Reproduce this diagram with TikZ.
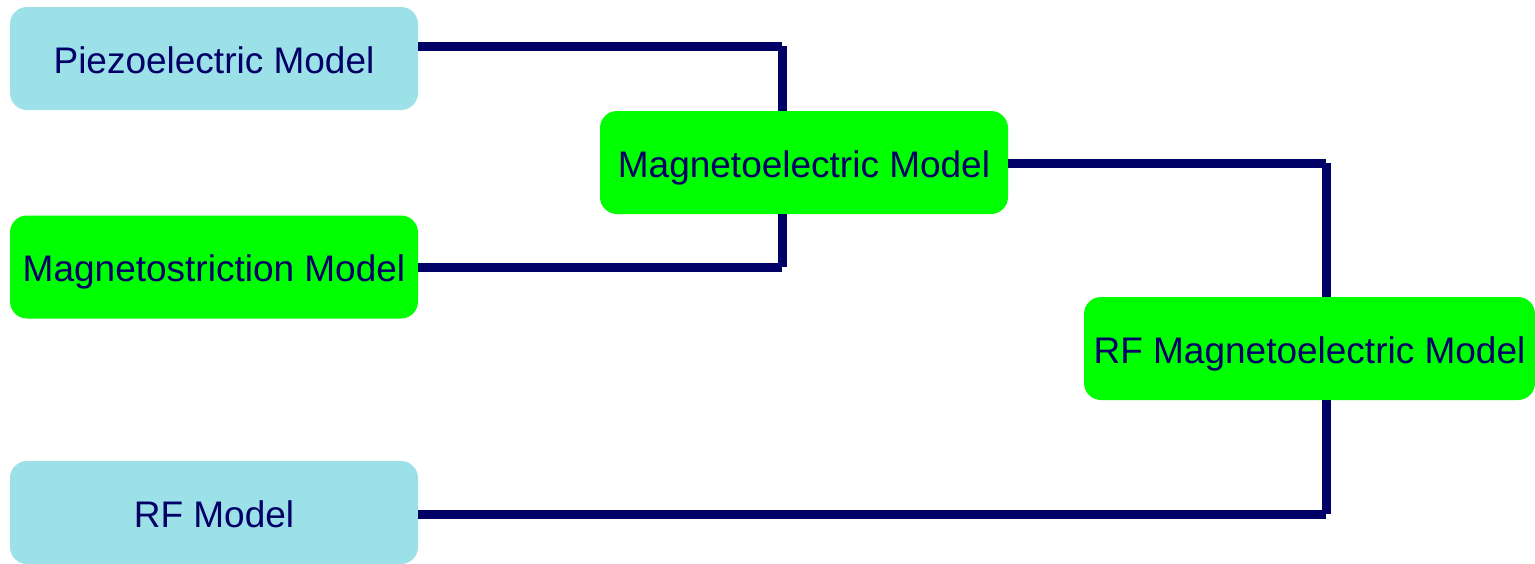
\documentclass[tikz,border=0pt]{standalone}
\usepackage{fontspec}
\setmainfont{Liberation Sans}
\definecolor{boxblue}{RGB}{156,224,232}
\definecolor{boxgreen}{RGB}{0,255,0}
\definecolor{navy}{RGB}{0,0,102}
\begin{document}
\begin{tikzpicture}[x=1pt,y=-1pt,
  model/.style={rounded corners=17pt, inner sep=0pt, minimum height=103pt,
    text height=29pt, text depth=0pt,
    text=navy, font=\fontsize{37}{44}\selectfont},
  inputbox/.style={model, fill=boxblue, minimum width=408pt},
  corebox/.style={model, fill=boxgreen, minimum width=408pt},
  link/.style={draw=navy, line width=9pt, line cap=butt}]
\useasboundingbox (0,0) rectangle (1535,563);

% bend points of the connectors
\coordinate (b1) at (782,46);
\coordinate (b2) at (782,267);
\coordinate (b3) at (1326,163);
\coordinate (b4) at (1326,514);

% model blocks
\node[inputbox] (piezo) at (214,58.5) {Piezoelectric Model};
\node[corebox] (mstr) at (214,267) {Magnetostriction Model};
\node[inputbox] (rf) at (214,512.5) {RF Model};
\node[corebox] (me) at (804,162.5) {Magnetoelectric Model};
\node[corebox, minimum width=451pt] (rfme) at (1309.5,348.5) {RF Magnetoelectric Model};

% connectors, each as a horizontal and a vertical run
\draw[link] (piezo.east |- b1) -- (b1);
\draw[link] (b1) -- (b1 |- me.north);
\draw[link] (mstr.east |- b2) -- (b2);
\draw[link] (b2) -- (b2 |- me.south);
\draw[link] (me.east |- b3) -- (b3);
\draw[link] (b3) -- (b3 |- rfme.north);
\draw[link] (rf.east |- b4) -- (b4);
\draw[link] (b4) -- (b4 |- rfme.south);
\end{tikzpicture}
\end{document}
